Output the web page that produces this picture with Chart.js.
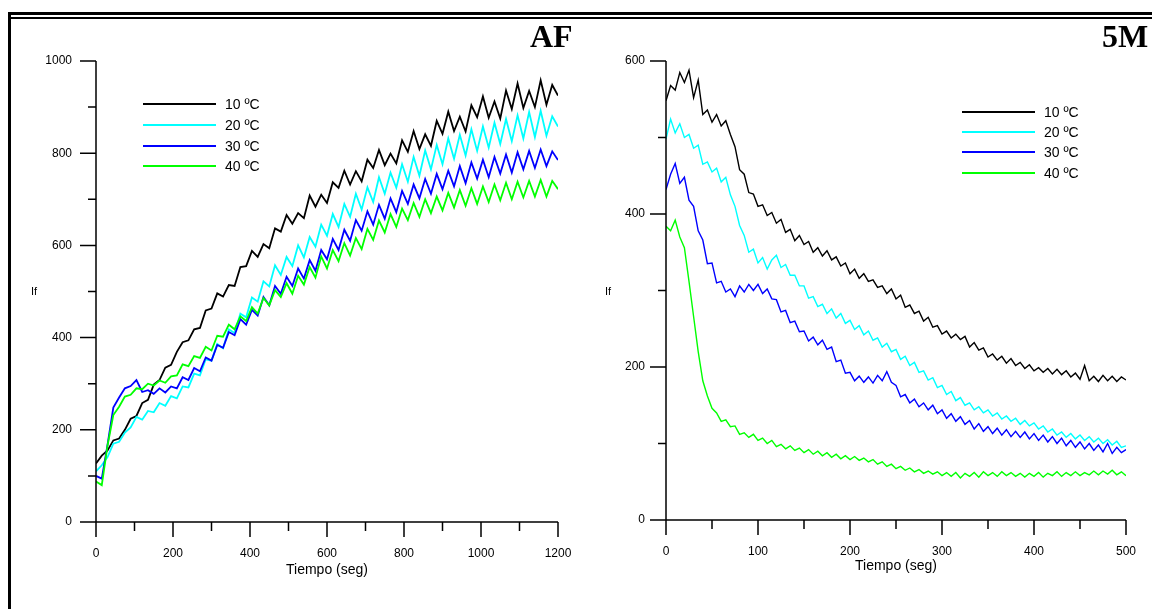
<!DOCTYPE html>
<html>
<head>
<meta charset="utf-8">
<script src="https://cdn.jsdelivr.net/npm/chart.js@4.4.1/dist/chart.umd.min.js"></script>
<style>
  html, body { margin:0; padding:0; background:#fff; }
  body { width:1152px; height:609px; position:relative; overflow:hidden; font-family:'Liberation Sans', Arial, sans-serif; }
  canvas { position:absolute; top:0; }
  .frame { position:absolute; background:#000; z-index:5; }
  .ttl { position:absolute; font-family:'Liberation Serif','Times New Roman',serif; font-weight:bold; font-size:32px; line-height:32px; color:#000; z-index:5; }
  .yt { position:absolute; font-size:11px; line-height:12px; color:#000; z-index:5; }
  .lg { position:absolute; z-index:5; }
  .lg .row { position:absolute; height:16px; }
  .lg .ln { position:absolute; top:7px; height:1.6px; width:73px; left:0; }
  .lg .tx { position:absolute; left:82px; top:0; font-size:14px; line-height:16px; white-space:nowrap; color:#000; }
</style>
</head>
<body>
<div class="frame" style="left:8px;top:12px;width:1144px;height:3px;"></div>
<div class="frame" style="left:11px;top:17px;width:1141px;height:2px;"></div>
<div class="frame" style="left:8px;top:12px;width:3px;height:597px;"></div>
<div class="ttl" style="left:530px;top:20px;">AF</div>
<div class="ttl" style="left:1102px;top:20px;">5M</div>
<div class="yt" style="left:31px;top:285px;">If</div>
<div class="yt" style="left:605px;top:285px;">If</div>
<div class="lg" id="legL" style="left:143px;top:0;"></div>
<div class="lg" id="legR" style="left:962px;top:0;"></div>
<canvas id="cL" width="576" height="609" style="left:0;"></canvas>
<canvas id="cR" width="576" height="609" style="left:576px;"></canvas>
<script>
// ---------- data ----------
const seriesLabels = ['10 ºC', '20 ºC', '30 ºC', '40 ºC'];
const seriesColors = ['#000000', '#00ffff', '#0000ff', '#00ff00'];

// Panel AF: time (s)
const afTimes = [0,15,30,45,60,75,90,105,120,135,150,165,180,195,210,225,240,255,270,285,300,315,330,345,360,375,390,405,420,435,450,465,480,495,510,525,540,555,570,585,600,615,630,645,660,675,690,705,720,735,750,765,780,795,810,825,840,855,870,885,900,915,930,945,960,975,990,1005,1020,1035,1050,1065,1080,1095,1110,1125,1140,1155,1170,1185,1200];
const af10 = [127,144,155,177,181,200,224,230,258,265,298,308,335,341,369,390,394,418,421,459,463,496,489,514,512,553,555,588,575,603,594,637,630,666,647,670,659,708,684,710,692,737,725,762,732,761,739,786,768,807,774,799,778,828,803,848,809,841,816,870,842,890,848,879,847,904,878,923,877,912,875,936,896,951,898,935,900,958,905,948,925];
const af20 = [110,123,141,170,174,194,205,228,222,241,238,258,252,273,268,294,292,322,318,353,350,386,377,418,410,452,444,487,478,522,511,557,536,575,555,600,574,618,597,645,621,668,640,690,662,712,678,726,694,748,712,758,725,776,738,792,751,806,765,818,776,832,788,840,795,852,805,858,812,866,820,874,826,882,832,889,835,892,838,880,858];
const af30 = [100,94,168,248,270,290,295,308,282,286,278,290,281,294,290,314,308,334,327,357,350,384,378,412,405,440,428,460,448,488,470,512,495,532,512,550,528,568,545,590,570,614,590,634,610,655,632,674,645,688,658,702,672,718,690,732,702,744,712,755,722,762,728,772,735,780,745,786,748,792,756,797,758,802,765,805,768,808,772,804,785];
const af40 = [88,80,166,232,250,272,276,290,288,300,296,307,302,316,318,342,338,360,356,380,372,404,402,428,418,446,436,466,452,486,470,503,488,518,495,534,515,553,530,576,550,590,566,605,578,616,592,636,612,654,628,668,640,680,655,692,662,700,670,706,676,714,682,720,686,724,690,728,694,732,698,736,700,738,704,740,706,742,706,740,722];

// Panel 5M: time (s)
const mTimes = [0,5,10,15,20,25,30,35,40,45,50,55,60,65,70,75,80,85,90,95,100,105,110,115,120,125,130,135,140,145,150,155,160,165,170,175,180,185,190,195,200,205,210,215,220,225,230,235,240,245,250,255,260,265,270,275,280,285,290,295,300,305,310,315,320,325,330,335,340,345,350,355,360,365,370,375,380,385,390,395,400,405,410,415,420,425,430,435,440,445,450,455,460,465,470,475,480,485,490,495,500];
const m10 = [548,568,562,585,572,588,552,575,530,536,520,530,515,522,504,488,458,452,428,426,410,412,398,402,388,393,376,380,365,372,360,364,350,356,345,352,340,344,332,336,322,328,316,322,312,314,304,306,296,302,289,294,278,281,270,273,260,265,252,254,243,247,238,243,236,240,226,232,222,225,213,217,209,214,205,211,202,206,198,203,195,199,193,198,191,197,190,195,187,192,184,202,182,188,181,189,182,188,181,187,183];
const m20 = [498,524,506,518,500,504,486,490,465,468,455,460,442,448,425,410,385,372,350,354,336,343,328,340,346,330,334,320,320,306,306,290,292,279,282,270,276,264,270,257,261,249,254,242,247,235,238,226,231,220,223,210,214,202,206,193,195,183,186,173,176,164,168,156,160,150,153,144,148,140,144,136,140,132,136,129,133,125,130,123,127,119,123,115,119,111,115,108,113,106,111,104,109,102,107,100,105,98,103,95,97];
const m30 = [432,452,466,440,448,418,410,378,366,335,336,310,312,298,302,292,306,298,308,300,308,296,302,289,288,272,274,258,260,246,247,234,239,229,235,223,226,207,209,192,193,182,188,180,187,179,189,182,194,180,176,161,164,153,158,148,153,144,150,139,144,133,139,129,135,125,130,119,126,116,122,113,120,111,118,109,116,108,115,106,113,104,111,102,109,100,107,97,104,95,102,93,100,91,98,89,100,87,95,88,92];
const m40 = [384,378,392,370,356,312,266,220,182,162,146,140,129,131,122,123,112,114,108,112,104,107,100,104,96,99,93,97,91,94,88,92,86,90,84,88,82,86,80,84,79,83,78,81,76,79,73,76,70,73,67,70,65,68,63,66,61,64,60,63,58,62,57,62,55,61,57,62,56,63,58,62,57,63,58,62,57,61,56,61,57,62,56,61,58,63,57,62,58,63,58,62,59,64,59,64,60,65,59,63,58];

// ---------- charts ----------
Chart.defaults.font.family = "'Liberation Sans', Arial, sans-serif";
Chart.defaults.font.size = 12;
Chart.defaults.color = '#000';

const axesPlugin = {
  id: 'axesDraw',
  afterDraw(chart, args, o) {
    const ctx = chart.ctx, a = chart.chartArea, x = chart.scales.x, y = chart.scales.y;
    ctx.save();
    ctx.strokeStyle = '#000';
    ctx.lineWidth = 1.5;
    ctx.beginPath();
    ctx.moveTo(a.left, a.top); ctx.lineTo(a.left, a.bottom);
    ctx.moveTo(a.left, a.bottom); ctx.lineTo(a.right, a.bottom);
    for (let v = y.min; v <= y.max + 1e-6; v += o.yMinor) {
      const py = y.getPixelForValue(v);
      const major = Math.abs(v % o.yMajor) < 1e-6;
      ctx.moveTo(a.left - (major ? 16 : 8), py); ctx.lineTo(a.left, py);
    }
    for (let v = x.min; v <= x.max + 1e-6; v += o.xMinor) {
      const px = x.getPixelForValue(v);
      const major = Math.abs(v % o.xMajor) < 1e-6;
      ctx.moveTo(px, a.bottom); ctx.lineTo(px, a.bottom + (major ? 15 : 9));
    }
    ctx.stroke();
    ctx.restore();
  }
};

function makeChart(id, times, series, cfg) {
  const datasets = series.map((d, i) => ({
    label: seriesLabels[i],
    data: d,
    borderColor: seriesColors[i],
    borderWidth: cfg.lw,
    pointRadius: 0,
    tension: 0,
    fill: false,
    order: 4 - i
  }));
  return new Chart(document.getElementById(id), {
    type: 'line',
    data: { labels: times, datasets },
    plugins: [axesPlugin],
    options: {
      responsive: false,
      animation: false,
      devicePixelRatio: 1,
      layout: { padding: cfg.pad },
      plugins: {
        legend: { display: false },
        tooltip: { enabled: false },
        axesDraw: cfg.ticks
      },
      scales: {
        x: {
          type: 'linear', min: 0, max: cfg.xMax,
          grid: { display: false, drawTicks: false },
          border: { display: false },
          ticks: { stepSize: cfg.xStep, padding: 24, maxRotation: 0, autoSkip: false, font: { size: 12 }, callback: v => String(v) },
          title: { display: true, text: 'Tiempo (seg)', font: { size: 14 }, padding: { top: 0, bottom: cfg.xTitlePad } },
          afterFit: s => { s.height = 60; s.paddingLeft = 0; s.paddingRight = 0; }
        },
        y: {
          type: 'linear', min: 0, max: cfg.yMax,
          grid: { display: false, drawTicks: false },
          border: { display: false },
          ticks: { stepSize: 200, padding: cfg.yLabPad, font: { size: 12 }, callback: v => String(v) },
          afterFit: s => { s.width = cfg.yW; s.paddingTop = 0; s.paddingBottom = 0; }
        }
      }
    }
  });
}

makeChart('cL', afTimes, [af10, af20, af30, af40], {
  lw: 1.8, xMax: 1200, yMax: 1000, xStep: 200,
  pad: { left: 0, right: 18, top: 61, bottom: 27 },
  yW: 96, yLabPad: 24, xTitlePad: 3,
  ticks: { xMinor: 100, xMajor: 200, yMinor: 100, yMajor: 200 }
});
makeChart('cR', mTimes, [m10, m20, m30, m40], {
  lw: 1.4, xMax: 500, yMax: 600, xStep: 100,
  pad: { left: 0, right: 26, top: 61, bottom: 29 },
  yW: 90, yLabPad: 21, xTitlePad: 5,
  ticks: { xMinor: 50, xMajor: 100, yMinor: 100, yMajor: 200 }
});

// ---------- legends ----------
function makeLegend(id, rowsY) {
  const el = document.getElementById(id);
  seriesLabels.forEach((t, i) => {
    const r = document.createElement('div');
    r.className = 'row';
    r.style.top = (rowsY[i] - 8) + 'px';
    r.innerHTML = '<div class="ln" style="background:' + seriesColors[i] + '"></div><div class="tx">' + t + '</div>';
    el.appendChild(r);
  });
}
makeLegend('legL', [104, 125, 146, 166]);
makeLegend('legR', [112, 132, 152, 173]);
</script>
</body>
</html>
